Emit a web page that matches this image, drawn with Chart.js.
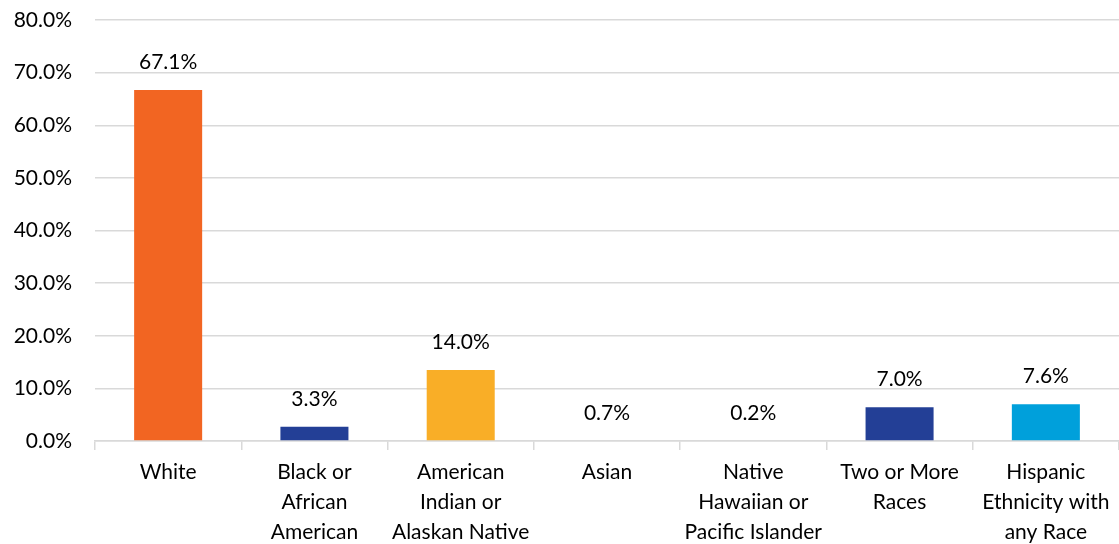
<!DOCTYPE html>
<html>
<head>
<meta charset="utf-8">
<script src="https://cdn.jsdelivr.net/npm/chart.js@4"></script>
<style>
  html, body { margin: 0; padding: 0; background: #fff; }
  #wrap { width: 1119px; height: 544px; position: relative; }
</style>
</head>
<body>
<div id="wrap"><canvas id="myChart"></canvas></div>
<script>
// Categories (multi line like the original)
var categories = [
  ["White"],
  ["Black or", "African", "American"],
  ["American", "Indian or", "Alaskan Native"],
  ["Asian"],
  ["Native", "Hawaiian or", "Pacific Islander"],
  ["Two or More", "Races"],
  ["Hispanic", "Ethnicity with", "any Race"]
];
// bar heights as drawn
var barValues = [66.7, 2.7, 13.5, 0, 0, 6.4, 7.0];
// label text shown above bars
var labelValues = [67.1, 3.3, 14.0, 0.7, 0.2, 7.0, 7.6];
var barColors = ['#F26522', '#233F96', '#F9AE27', '#233F96', '#F9AE27', '#233F96', '#00A0DB'];
var yTicks = [0, 10, 20, 30, 40, 50, 60, 70, 80];

var FONT = 'Lato, "Open Sans", sans-serif';

// draw the value labels above each bar
var valueLabels = {
  id: 'valueLabels',
  afterDatasetsDraw: function (chart) {
    var ctx = chart.ctx;
    var meta = chart.getDatasetMeta(0);
    ctx.save();
    ctx.font = '21px ' + FONT;
    ctx.fillStyle = '#000';
    ctx.textAlign = 'center';
    ctx.textBaseline = 'middle';
    meta.data.forEach(function (bar, i) {
      ctx.fillText(labelValues[i].toFixed(1) + '%', bar.x, bar.y - 28);
    });
    ctx.restore();
  }
};

var ctx = document.getElementById('myChart').getContext('2d');
var chart = new Chart(ctx, {
  type: 'bar',
  data: {
    labels: categories,
    datasets: [{
      data: barValues,
      backgroundColor: barColors,
      borderWidth: 0,
      barPercentage: 0.465,
      categoryPercentage: 1
    }]
  },
  options: {
    responsive: true,
    maintainAspectRatio: false,
    animation: false,
    layout: { autoPadding: false, padding: { top: 20, right: 0, left: 0, bottom: 0 } },
    plugins: {
      legend: { display: false },
      tooltip: { enabled: false }
    },
    scales: {
      x: {
        grid: {
          display: true,
          drawOnChartArea: false,
          drawTicks: true,
          tickLength: 9,
          color: '#d9d9d9',
          lineWidth: 1.5
        },
        border: { display: true, color: '#d9d9d9', width: 1.5 },
        ticks: {
          color: '#000',
          font: { family: FONT, size: 21, lineHeight: 1.43 },
          padding: 7,
          maxRotation: 0,
          autoSkip: false
        },
        afterFit: function (scale) { scale.height = 103; }
      },
      y: {
        min: yTicks[0],
        max: yTicks[yTicks.length - 1],
        grid: {
          color: '#d9d9d9',
          lineWidth: 1.5,
          drawTicks: true,
          tickLength: 20,
          tickColor: 'rgba(0,0,0,0)'
        },
        border: { display: false },
        ticks: {
          stepSize: yTicks[1] - yTicks[0],
          color: '#000',
          font: { family: FONT, size: 21 },
          padding: 3,
          callback: function (v) { return v.toFixed(1) + '%'; }
        },
        afterFit: function (scale) { scale.width = 95; }
      }
    }
  },
  plugins: [valueLabels]
});
</script>
</body>
</html>
